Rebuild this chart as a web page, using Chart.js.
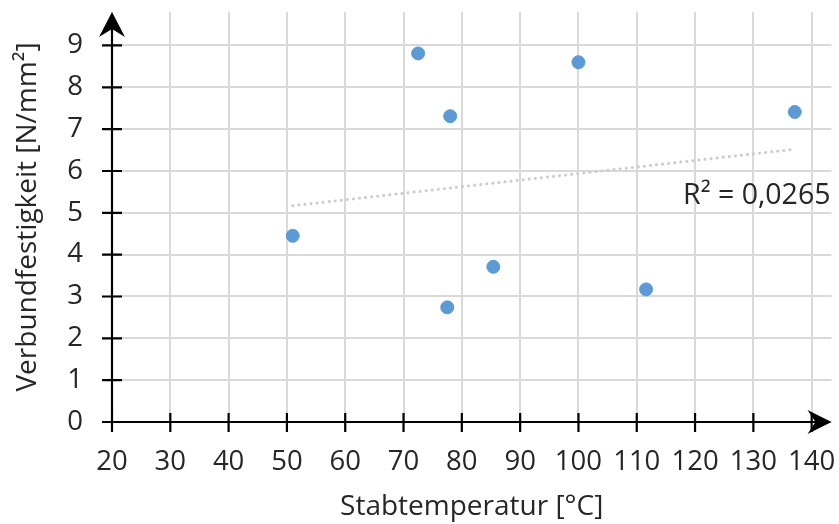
<!DOCTYPE html>
<html>
<head>
<meta charset="utf-8">
<script src="https://cdn.jsdelivr.net/npm/chart.js@4"></script>
<style>
  html, body { margin: 0; padding: 0; background: #fff; }
  #wrap { width: 839px; height: 524px; }
</style>
</head>
<body>
<div id="wrap"><canvas id="chart" width="839" height="524"></canvas></div>
<script>
// measured points (Stabtemperatur °C / Verbundfestigkeit N/mm²)
const temps = [51, 72.5, 78, 77.5, 85.4, 100, 111.6, 137.1];
const strengths = [4.45, 8.81, 7.31, 2.74, 3.71, 8.6, 3.17, 7.41];
// linear trend
const trendX = [51, 137.1];
const trendY = [5.17, 6.52];
const r2Label = 'R² = 0,0265';

const FONT = '"Open Sans", sans-serif';
const TEXT = '#262626';

// axes with arrow heads and crossing tick marks
const axisArrows = {
  id: 'axisArrows',
  beforeDatasetsDraw(chart) {
    const { ctx, scales: { x, y }, chartArea: a } = chart;
    const x0 = x.getPixelForValue(20);
    const y0 = y.getPixelForValue(0);
    ctx.save();
    ctx.strokeStyle = '#000';
    ctx.fillStyle = '#000';
    ctx.lineWidth = 2.2;
    ctx.beginPath();
    ctx.moveTo(x0, y0 + 10); ctx.lineTo(x0, a.top + 4);
    ctx.moveTo(x0 - 10, y0); ctx.lineTo(a.right - 4, y0);
    // ticks
    y.ticks.forEach(t => {
      const py = y.getPixelForValue(t.value);
      ctx.moveTo(x0 - 10, py); ctx.lineTo(x0 + 10, py);
    });
    x.ticks.forEach(t => {
      const px = x.getPixelForValue(t.value);
      ctx.moveTo(px, y0 - 9); ctx.lineTo(px, y0 + 10);
    });
    ctx.stroke();
    // arrow up
    ctx.beginPath();
    ctx.moveTo(x0, a.top);
    ctx.lineTo(x0 - 13, a.top + 25);
    ctx.lineTo(x0, a.top + 17);
    ctx.lineTo(x0 + 13, a.top + 25);
    ctx.closePath();
    ctx.fill();
    // arrow right
    ctx.beginPath();
    ctx.moveTo(a.right, y0);
    ctx.lineTo(a.right - 24, y0 - 12);
    ctx.lineTo(a.right - 16, y0);
    ctx.lineTo(a.right - 24, y0 + 12);
    ctx.closePath();
    ctx.fill();
    ctx.restore();
  },
  afterDatasetsDraw(chart) {
    const { ctx, scales: { x, y } } = chart;
    ctx.save();
    ctx.font = '28.5px ' + FONT;
    ctx.fillStyle = TEXT;
    ctx.textAlign = 'right';
    ctx.textBaseline = 'middle';
    ctx.fillText(r2Label, x.right - 1, y.getPixelForValue(5.4));
    ctx.restore();
  }
};

// no extra room for overhanging tick labels
const noPad = s => {
  s.paddingTop = 0; s.paddingBottom = 0; s.paddingLeft = 0; s.paddingRight = 0;
};

new Chart(document.getElementById('chart'), {
  type: 'scatter',
  data: {
    datasets: [{
      data: temps.map((t, i) => ({ x: t, y: strengths[i] })),
      backgroundColor: '#5b9bd5',
      borderColor: '#5b9bd5',
      pointRadius: 6.5,
      pointHoverRadius: 6.5
    }, {
      type: 'line',
      data: trendX.map((t, i) => ({ x: t, y: trendY[i] })),
      borderColor: '#cccccc',
      borderWidth: 3,
      borderDash: [0.1, 6],
      borderCapStyle: 'round',
      pointRadius: 0,
      fill: false
    }]
  },
  options: {
    responsive: false,
    animation: false,
    layout: { padding: { top: 12, right: 1, left: 0, bottom: 0 } },
    plugins: { legend: { display: false }, tooltip: { enabled: false } },
    scales: {
      x: {
        type: 'linear',
        min: 20,
        max: 143.4,
        afterFit: s => { s.height = 102; noPad(s); },
        grid: { color: '#d9d9d9', lineWidth: 2, drawTicks: false },
        border: { display: false },
        ticks: { stepSize: 10, includeBounds: false, padding: 24, color: TEXT, font: { family: FONT, size: 27.5 } },
        title: { display: true, text: 'Stabtemperatur [°C]', color: TEXT, padding: 0, font: { family: FONT, size: 28 } }
      },
      y: {
        min: 0,
        max: 9.8,
        afterFit: s => { s.width = 112; noPad(s); },
        grid: { color: '#d9d9d9', lineWidth: 2, drawTicks: false },
        border: { display: false },
        ticks: { stepSize: 1, includeBounds: false, padding: 29, color: TEXT, font: { family: FONT, size: 27.5 } },
        title: { display: true, text: 'Verbundfestigkeit [N/mm²]', color: TEXT, padding: { top: 11 }, font: { family: FONT, size: 28 } }
      }
    }
  },
  plugins: [axisArrows]
});
</script>
</body>
</html>
